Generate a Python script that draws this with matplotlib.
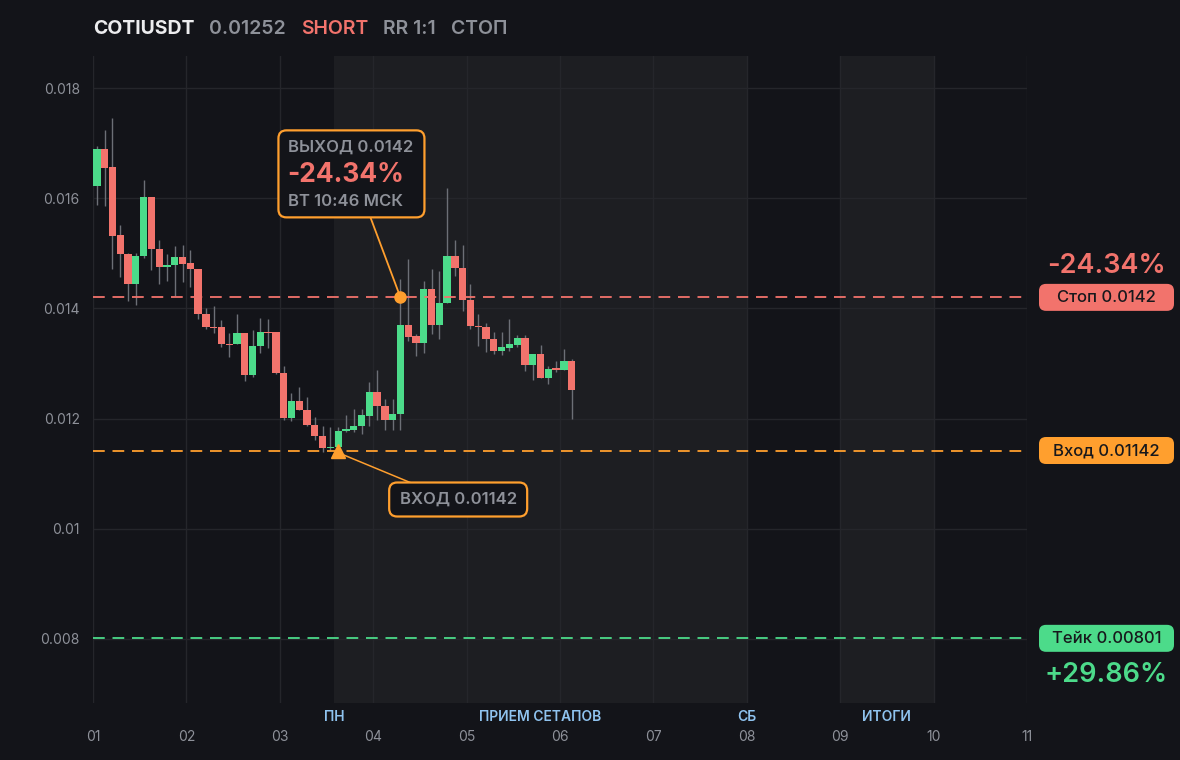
import matplotlib
matplotlib.use("Agg")
import matplotlib.pyplot as plt
import matplotlib.transforms as mtransforms
from matplotlib.patches import FancyBboxPatch
from matplotlib.lines import Line2D
import numpy as np

plt.rcParams['font.family'] = ['Inter', 'DejaVu Sans']

# OHLC, one candle per 2 hours (12 per day)
opens = [0.01622, 0.01689, 0.01656, 0.01533, 0.01499, 0.01444, 0.01495, 0.01602, 0.01508, 0.01475,
         0.01478, 0.01493, 0.01482, 0.01472, 0.01390, 0.01367, 0.01367, 0.01336, 0.01335, 0.01356,
         0.01279, 0.01332, 0.01358, 0.01358, 0.01283, 0.01201, 0.01232, 0.01216, 0.01189, 0.01168,
         0.01147, 0.01148, 0.01178, 0.01179, 0.01186, 0.01204, 0.01249, 0.01223, 0.01198, 0.01208,
         0.01369, 0.01349, 0.01337, 0.01436, 0.01369, 0.01410, 0.01495, 0.01474, 0.01415, 0.01368,
         0.01367, 0.01345, 0.01322, 0.01328, 0.01333, 0.01346, 0.01297, 0.01318, 0.01273, 0.01291,
         0.01289, 0.01304]
highs = [0.01695, 0.01724, 0.01746, 0.01551, 0.01500, 0.01500, 0.01633, 0.01602, 0.01525, 0.01498,
         0.01513, 0.01515, 0.01506, 0.01472, 0.01401, 0.01404, 0.01379, 0.01355, 0.01389, 0.01356,
         0.01361, 0.01383, 0.01380, 0.01358, 0.01296, 0.01247, 0.01258, 0.01240, 0.01202, 0.01186,
         0.01184, 0.01184, 0.01207, 0.01218, 0.01218, 0.01266, 0.01289, 0.01236, 0.01236, 0.01454,
         0.01489, 0.01354, 0.01449, 0.01472, 0.01467, 0.01618, 0.01524, 0.01515, 0.01444, 0.01389,
         0.01373, 0.01358, 0.01358, 0.01380, 0.01352, 0.01352, 0.01318, 0.01333, 0.01295, 0.01304,
         0.01326, 0.01309]
lows = [0.01587, 0.01586, 0.01471, 0.01457, 0.01413, 0.01407, 0.01492, 0.01469, 0.01444, 0.01449,
        0.01422, 0.01447, 0.01439, 0.01381, 0.01362, 0.01356, 0.01330, 0.01312, 0.01335, 0.01269,
        0.01276, 0.01319, 0.01328, 0.01280, 0.01198, 0.01195, 0.01215, 0.01187, 0.01161, 0.01140,
        0.01142, 0.01142, 0.01176, 0.01175, 0.01172, 0.01186, 0.01198, 0.01179, 0.01180, 0.01179,
        0.01340, 0.01314, 0.01319, 0.01354, 0.01344, 0.01410, 0.01458, 0.01396, 0.01362, 0.01332,
        0.01321, 0.01318, 0.01316, 0.01322, 0.01330, 0.01287, 0.01270, 0.01273, 0.01263, 0.01285,
        0.01288, 0.01199]
closes = [0.01689, 0.01655, 0.01532, 0.01499, 0.01444, 0.01496, 0.01602, 0.01508, 0.01475, 0.01478,
          0.01493, 0.01481, 0.01472, 0.01390, 0.01366, 0.01364, 0.01336, 0.01333, 0.01356, 0.01279,
          0.01332, 0.01358, 0.01356, 0.01282, 0.01201, 0.01232, 0.01216, 0.01189, 0.01168, 0.01146,
          0.01149, 0.01178, 0.01181, 0.01186, 0.01206, 0.01249, 0.01223, 0.01198, 0.01209, 0.01369,
          0.01348, 0.01337, 0.01436, 0.01369, 0.01410, 0.01495, 0.01473, 0.01415, 0.01368, 0.01366,
          0.01344, 0.01322, 0.01329, 0.01335, 0.01346, 0.01297, 0.01318, 0.01273, 0.01290, 0.01288,
          0.01304, 0.01252]

day_ticks = list(range(1, 12))
day_labels = [f"{d:02d}" for d in day_ticks]
y_ticks = [0.008, 0.010, 0.012, 0.014, 0.016, 0.018]
y_labels = ["0.008", "0.01", "0.012", "0.014", "0.016", "0.018"]

entry_idx, exit_idx = 31, 39
entry_price, stop_price, take_price = 0.01142, 0.0142, 0.00801
stop_pct, take_pct = "-24.34%", "+29.86%"

sessions = [(1 + entry_idx / 12, 8.0), (9.0, 10.0)]
session_names = ["ПН", "ПРИЕМ СЕТАПОВ", "СБ", "ИТОГИ"]

BG = '#131419'
SHADE = '#1d1e22'
GRID = '#25262b'
GREEN = '#4cdb8a'
RED = '#f2736c'
ORANGE = '#ff9f2e'
GRAY = '#8e9199'
WICK = '#6c6f76'

fig = plt.figure(figsize=(11.8, 7.6), dpi=100, facecolor=BG)
ax = fig.add_axes([93 / 1180, 1 - 703 / 760, (1027 - 93) / 1180, (703 - 56) / 760])
ax.set_facecolor(BG)
ax.set_xlim(1, 11)
ax.set_ylim(0.006836, 0.018582)

for a, b in sessions:
    ax.axvspan(a, b, color=SHADE, zorder=0, lw=0)

ax.set_xticks(day_ticks)
ax.set_xticklabels(day_labels)
ax.set_yticks(y_ticks)
ax.set_yticklabels(y_labels)
ax.grid(True, color=GRID, lw=1, zorder=1)
ax.tick_params(length=0, colors=GRAY, labelsize=10)
ax.tick_params(axis='x', pad=19.5)
ax.tick_params(axis='y', pad=9.5)
for s in ax.spines.values():
    s.set_visible(False)

x = 1 + (np.arange(len(opens)) + 0.5) / 12
o = np.array(opens); c = np.array(closes)
up = c >= o
ax.vlines(x, lows, highs, color=WICK, lw=1, zorder=3)
body = np.maximum(np.abs(c - o), 0.00002)
ax.bar(x, body, bottom=np.minimum(o, c), width=0.078,
       color=np.where(up, GREEN, RED), zorder=4, lw=0)

for price, col in [(stop_price, RED), (entry_price, ORANGE), (take_price, GREEN)]:
    ax.axhline(price, color=col, lw=1.3, dashes=(6.5, 4.3), zorder=5)

# session labels under the chart
pos = [sessions[0][0], sum(sessions[0]) / 2, sessions[0][1], sum(sessions[1]) / 2]
for lab, px in zip(session_names, pos):
    ax.text(px, -14 / 647, lab, transform=ax.get_xaxis_transform(), ha='center', va='center',
            color='#8fc3ef', fontsize=10, fontweight='semibold')

# markers
ex_x, en_x = x[exit_idx], x[entry_idx]
ax.plot(en_x, entry_price, marker='^', ms=10, color=ORANGE, mec=ORANGE, zorder=7)
ax.plot(ex_x, stop_price, marker='o', ms=8, color=ORANGE, mec=ORANGE, zorder=7)

fig.canvas.draw()
ident = mtransforms.IdentityTransform()
ex_px, ex_py = ax.transData.transform((ex_x, stop_price))
en_px, en_py = ax.transData.transform((en_x, entry_price))

# exit callout
fig.add_artist(Line2D([ex_px - 30, ex_px], [ex_py + 80, ex_py], color=ORANGE, lw=1.3,
                      transform=ident, zorder=2))
fig.add_artist(FancyBboxPatch((ex_px - 122, ex_py + 80), 146, 87,
                              boxstyle='round,pad=0,rounding_size=8', fc=BG, ec=ORANGE,
                              lw=1.6, transform=ident, zorder=3))
fig.text(ex_px - 112, ex_py + 150, "ВЫХОД 0.0142", transform=ident, color=GRAY,
         fontsize=12, fontweight='semibold', va='center', ha='left', zorder=4)
fig.text(ex_px - 113, ex_py + 122, stop_pct, transform=ident, color=RED,
         fontsize=19, fontweight='bold', va='center', ha='left', zorder=4)
fig.text(ex_px - 112, ex_py + 96, "ВТ 10:46 МСК", transform=ident, color=GRAY,
         fontsize=12, fontweight='semibold', va='center', ha='left', zorder=4)

# entry callout
fig.add_artist(Line2D([en_px + 2, en_px + 72], [en_py - 3, en_py - 32], color=ORANGE, lw=1.1,
                      transform=ident, zorder=2))
fig.add_artist(FancyBboxPatch((en_px + 51, en_py - 66), 138, 34,
                              boxstyle='round,pad=0,rounding_size=8', fc=BG, ec=ORANGE,
                              lw=1.6, transform=ident, zorder=3))
fig.text(en_px + 120, en_py - 49, "ВХОД 0.01142", transform=ident, color=GRAY,
         fontsize=12, fontweight='semibold', va='center', ha='center', zorder=4)

# right-side price pills
pill_x0, pill_w, pill_h = 1039, 135, 27
for price, col, lab in [(stop_price, RED, "Стоп 0.0142"), (entry_price, ORANGE, "Вход 0.01142"),
                        (take_price, GREEN, "Тейк 0.00801")]:
    py = ax.transData.transform((1, price))[1]
    fig.add_artist(FancyBboxPatch((pill_x0, py - pill_h / 2), pill_w, pill_h,
                                  boxstyle='round,pad=0,rounding_size=7', fc=col, ec='none',
                                  transform=ident, zorder=3))
    fig.text(pill_x0 + pill_w / 2, py, lab, transform=ident, color='#17181c', fontsize=12,
             fontweight='medium', va='center', ha='center', zorder=4)

sp_y = ax.transData.transform((1, stop_price))[1]
tk_y = ax.transData.transform((1, take_price))[1]
fig.text(pill_x0 + pill_w / 2, sp_y + 31, stop_pct, transform=ident, color=RED, fontsize=19.5,
         fontweight='semibold', va='center', ha='center')
fig.text(pill_x0 + pill_w / 2, tk_y - 37, take_pct, transform=ident, color=GREEN, fontsize=19.5,
         fontweight='semibold', va='center', ha='center')

# header
renderer = fig.canvas.get_renderer()
parts = [("COTIUSDT", '#ececee', 'bold'), ("0.01252", GRAY, 'semibold'),
         ("SHORT", RED, 'semibold'), ("RR 1:1", GRAY, 'semibold'), ("СТОП", GRAY, 'semibold')]
cx = 93
for txt, col, w in parts:
    t = fig.text(cx, 760 - 29, txt, transform=ident, color=col, fontsize=14, fontweight=w,
                 va='center', ha='left')
    bb = t.get_window_extent(renderer)
    cx = bb.x1 + 15

fig.savefig("out.png", dpi=100, facecolor=BG)
